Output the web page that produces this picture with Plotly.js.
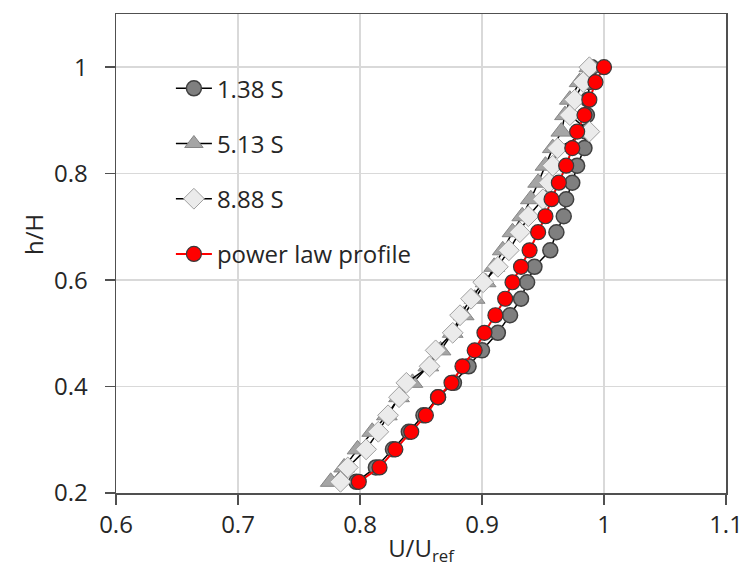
<!DOCTYPE html>
<html>
<head>
<meta charset="utf-8">
<script src="https://cdn.plot.ly/plotly-3.0.1.min.js"></script>
<style>html,body{margin:0;padding:0;background:#fff;}#chart{width:748px;height:567px;}</style>
</head>
<body>
<div id="chart"></div>
<script>
// heights h/H (shared)
const heights = [0.221,0.248,0.282,0.315,0.346,0.380,0.407,0.438,0.468,0.501,0.534,0.565,0.596,0.625,0.656,0.690,0.720,0.752,0.783,0.815,0.848,0.879,0.910,0.939,0.972,1.000];
// U/Uref values
const u138 = [0.797,0.813,0.827,0.840,0.852,0.864,0.877,0.889,0.900,0.913,0.923,0.932,0.937,0.943,0.956,0.961,0.967,0.969,0.974,0.978,0.984,0.985,0.986,0.987,0.988,0.990];
const u513 = [0.776,0.787,0.798,0.810,0.822,0.832,0.843,0.856,0.866,0.876,0.885,0.894,0.903,0.910,0.917,0.925,0.933,0.940,0.946,0.952,0.958,0.965,0.968,0.972,0.980,0.988];
const u888 = [0.784,0.790,0.805,0.815,0.823,0.832,0.838,0.857,0.862,0.876,0.882,0.891,0.901,0.913,0.922,0.931,0.938,0.950,0.955,0.958,0.962,0.988,0.972,0.976,0.983,0.988];
const uPow = [0.799,0.816,0.829,0.842,0.854,0.864,0.875,0.884,0.894,0.902,0.911,0.919,0.925,0.932,0.939,0.946,0.952,0.957,0.963,0.969,0.974,0.978,0.984,0.988,0.993,1.000];
const names = ['1.38 S','5.13 S','8.88 S','power law profile'];
const xTicks = [0.6,0.7,0.8,0.9,1,1.1];
const yTicks = [0.2,0.4,0.6,0.8,1];

const FONT = 'Open Sans, Liberation Sans, sans-serif';
const TXT = '#262626';
const FS = 24;

const traces = [
  {x:u138, y:heights, name:names[0], mode:'lines+markers', legendgroup:'a',
   line:{color:'#000000', width:1.5},
   marker:{symbol:'circle', size:15, color:'#7f7f7f', line:{color:'#404040', width:1.5}}},
  {x:u513, y:heights, name:names[1], mode:'lines+markers', legendgroup:'b',
   line:{color:'#000000', width:1.5},
   marker:{symbol:'triangle-up', size:18, color:'#a5a5a5', line:{color:'#858585', width:1}}},
  {x:u888, y:heights, name:names[2], mode:'lines+markers', legendgroup:'c',
   line:{color:'#000000', width:1.5},
   marker:{symbol:'diamond', size:16, color:'#ebebeb', line:{color:'#a0a0a0', width:1}}},
  {x:uPow, y:heights, name:names[3], mode:'lines+markers', legendgroup:'d',
   line:{color:'#ff0000', width:2},
   marker:{symbol:'circle', size:15, color:'#ff0000', line:{color:'#3a3a3a', width:1.2}}}
];

const axisCommon = {
  showline:true, linecolor:'#505050', linewidth:1.5, mirror:true,
  showgrid:true, gridcolor:'#d9d9d9', gridwidth:1.5,
  ticks:'outside', ticklen:10, tickwidth:1.5, tickcolor:'#505050',
  zeroline:false, tickfont:{family:FONT, size:FS, color:TXT}
};

const layout = {
  width:748, height:567,
  margin:{l:116, r:22, t:14, b:74},
  paper_bgcolor:'#ffffff', plot_bgcolor:'#ffffff',
  font:{family:FONT, color:TXT},
  showlegend:true,
  legend:{x:0.09, y:0.891, xanchor:'left', yanchor:'top', bgcolor:'rgba(0,0,0,0)',
          font:{family:FONT, size:FS, color:TXT}, tracegroupgap:21, traceorder:'grouped', itemwidth:36},
  xaxis:Object.assign({}, axisCommon, {
    range:[0.6,1.1], tickvals:xTicks, ticktext:xTicks.map(String), ticklabelstandoff:0,
    title:{text:'U/U<sub>ref</sub>', font:{family:FONT, size:FS, color:TXT}, standoff:4}
  }),
  yaxis:Object.assign({}, axisCommon, {
    range:[0.2,1.1], tickvals:yTicks, ticktext:yTicks.map(String), ticklabelstandoff:12,
    title:{text:''}
  }),
  annotations:[
    {text:'h/H', xref:'paper', yref:'paper', x:-0.135, y:0.54, xanchor:'center', yanchor:'middle',
     textangle:-90, showarrow:false, font:{family:FONT, size:FS, color:TXT}}
  ]
};

Plotly.newPlot('chart', traces, layout, {displayModeBar:false, staticPlot:true});
</script>
</body>
</html>
